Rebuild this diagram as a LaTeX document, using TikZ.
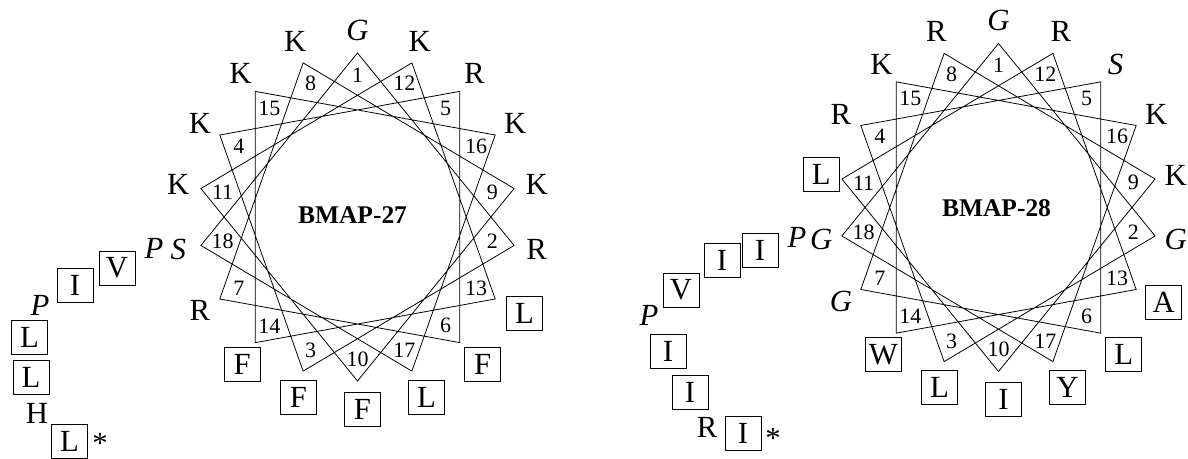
\documentclass[tikz,border=0pt]{standalone}
\usepackage{fontspec}
\setmainfont{Liberation Serif}
\usepackage{tikz}
\usetikzlibrary{calc, positioning}

\begin{document}
\begin{tikzpicture}[
    x=0.02cm, y=0.02cm,
    wheel/.style={line width=0.45pt, line join=miter},
    num/.style={inner sep=0pt, font=\fontsize{12.5}{14}\selectfont},
    res/.style={inner sep=0pt, font=\fontsize{17.5}{19}\selectfont},
    resit/.style={res, font=\fontsize{17.5}{19}\selectfont\itshape},
    resbox/.style={res, draw, line width=0.5pt, minimum width=0.72cm, minimum height=0.68cm},
    ringbox/.style={resbox, xshift=0.1cm},
    title/.style={inner sep=0pt, font=\fontsize{14.5}{16}\selectfont\bfseries}
]
\useasboundingbox (0,0) rectangle (1188,459);

% wheel centres
\coordinate (ca) at (357.5,242);
\coordinate (cb) at (998.5,251.5);

% helical wheels: positions every 100 degrees
\foreach \w in {a,b} {
  \foreach \k in {1,...,18} {
    \pgfmathsetmacro{\ang}{90-100*(\k-1)}
    \coordinate (\w\k) at ($(c\w)+(\ang:159 and 164)$);
    \node[num] (\w n\k) at ($(c\w)+(\ang:137 and 142)$) {\k};
  }
  \draw[wheel] (\w1) -- (\w2) -- (\w3) -- (\w4) -- (\w5) -- (\w6) -- (\w7) -- (\w8) -- (\w9)
    -- (\w10) -- (\w11) -- (\w12) -- (\w13) -- (\w14) -- (\w15) -- (\w16) -- (\w17) -- (\w18) -- cycle;
}

\node[title] (ta) at (352.5,244) {BMAP-27};
\node[title] (tb) at (996.5,250.5) {BMAP-28};

% BMAP-27 residues 1-18
\foreach \k/\s/\t/\d in {1/resit/G/23, 2/res/R/23, 3/ringbox/F/28, 4/res/K/23, 5/res/R/23,
    6/ringbox/F/28, 7/res/R/23, 8/res/K/23, 9/res/K/23, 10/ringbox/F/28, 11/res/K/23,
    12/res/K/23, 13/ringbox/L/28, 14/ringbox/F/28, 15/res/K/23, 16/res/K/23,
    17/ringbox/L/28, 18/resit/S/23} {
  \pgfmathsetmacro{\ang}{90-100*(\k-1)}
  \node[\s] (ra\k) at ($(a\k)+(\ang:\d)$) {\t};
}

% BMAP-28 residues 1-18
\foreach \k/\s/\t/\d in {1/resit/G/23, 2/resit/G/21, 3/ringbox/L/28, 4/res/R/23, 5/resit/S/23,
    6/ringbox/L/28, 7/resit/G/23, 8/res/R/23, 9/res/K/21, 10/ringbox/I/28,
    11/ringbox/L/26, 12/res/R/23, 13/ringbox/A/26, 14/ringbox/W/28, 15/res/K/23,
    16/res/K/23, 17/ringbox/Y/28, 18/resit/G/21} {
  \pgfmathsetmacro{\ang}{90-100*(\k-1)}
  \node[\s] (rb\k) at ($(b\k)+(\ang:\d)$) {\t};
}

% BMAP-27 tail
\node[resit] (ra19) at (154,211) {P};
\node[resbox] (ra20) at (117,191) {V};
\node[resbox] (ra21) at (75,174) {I};
\node[resit] (ra22) at (40,154) {P};
\node[resbox] (ra23) at (29.5,122) {L};
\node[resbox] (ra24) at (31,82) {L};
\node[res] (ra25) at (37,46) {H};
\node[resbox] (ra26) at (69.5,18) {L};
\node[res] (enda) at (100,16) {*};

% BMAP-28 tail
\node[resit] (rb19) at (797,222) {P};
\node[resbox] (rb20) at (760,209) {I};
\node[resbox] (rb21) at (722,199) {I};
\node[resbox] (rb22) at (681,169) {V};
\node[resit] (rb23) at (649,144) {P};
\node[resbox] (rb24) at (668,108) {I};
\node[resbox] (rb25) at (690,67) {I};
\node[res] (rb26) at (707,32) {R};
\node[resbox] (rb27) at (743,26) {I};
\node[res] (endb) at (773,21) {*};
\end{tikzpicture}
\end{document}
